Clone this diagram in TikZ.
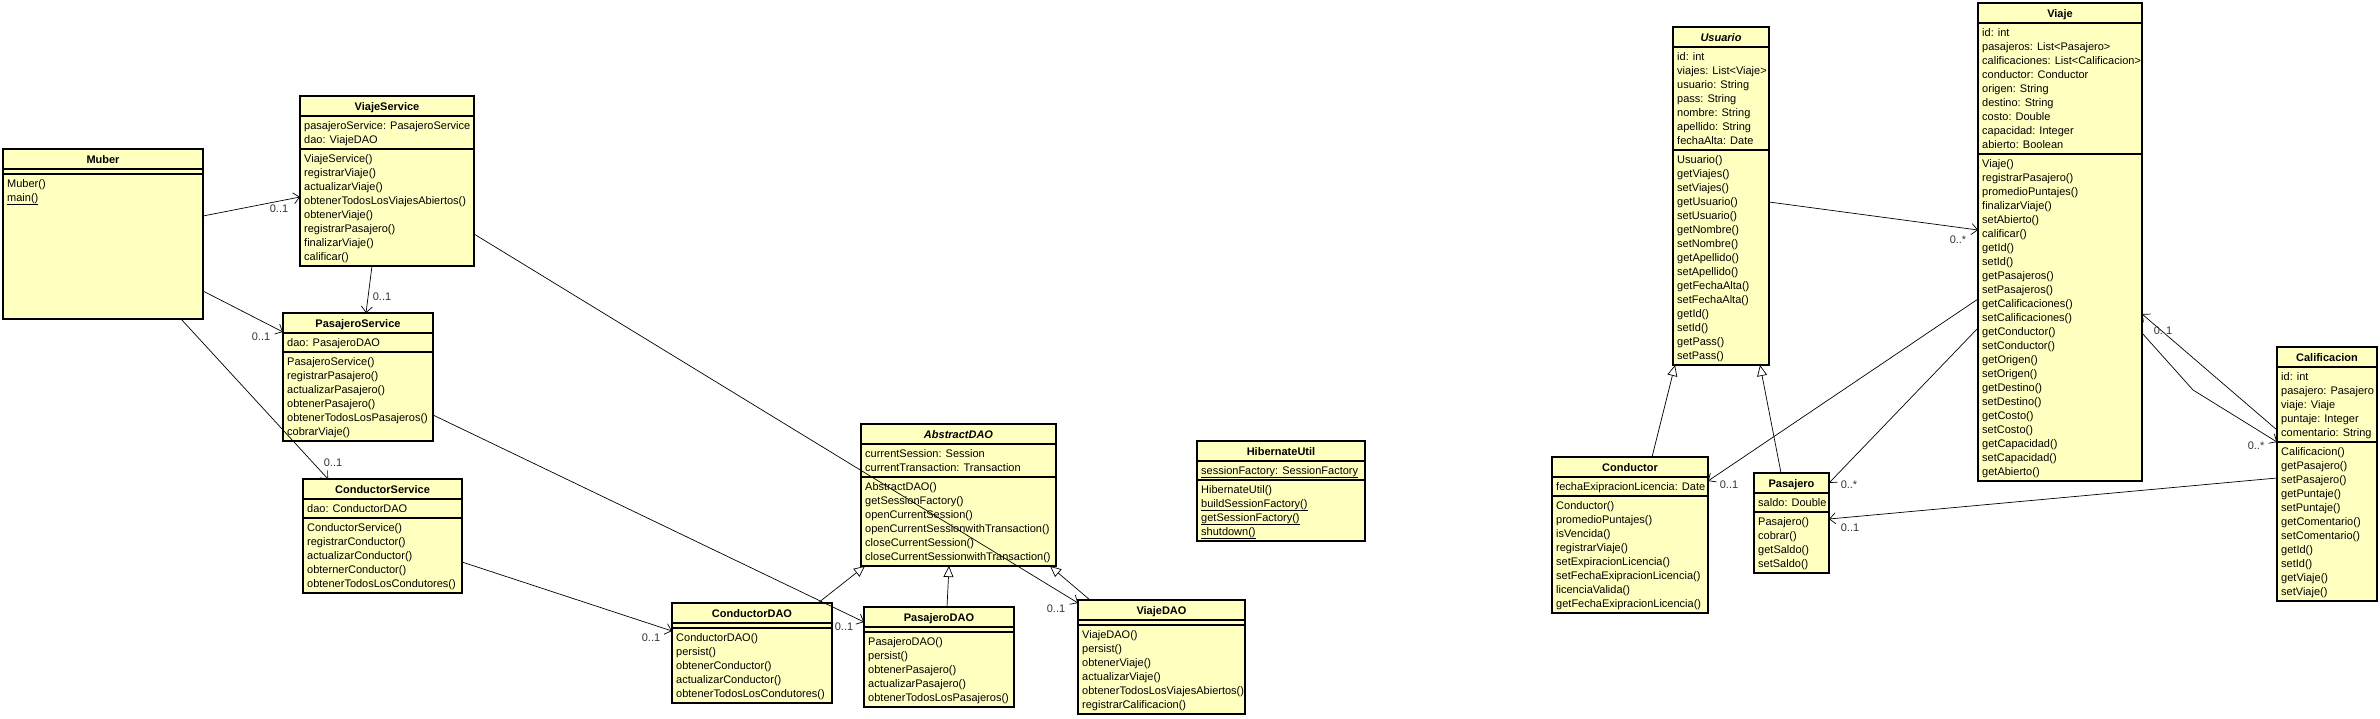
\documentclass[tikz,border=0pt]{standalone}
\usepackage{fontspec}
\setmainfont{Liberation Sans}
\usetikzlibrary{arrows.meta}
\definecolor{classfill}{HTML}{FFFFC0}
\definecolor{multgray}{HTML}{333333}
\tikzset{
  classbox/.style={draw=black,fill=classfill,line width=1.1pt,inner sep=0pt,outer sep=0pt},
  classline/.style={black,line width=1.1pt},
  classtitle/.style={anchor=base,inner sep=0pt,font=\fontsize{11}{13}\selectfont\bfseries},
  member/.style={anchor=base west,inner sep=0pt,font=\fontsize{11}{13}\selectfont},
  mult/.style={inner sep=0pt,font=\fontsize{11}{13}\selectfont,text=multgray},
  assoc/.style={line width=0.7pt,-{Straight Barb[length=6pt,width=11pt]}},
  inherit/.style={line width=0.7pt,-{Triangle[open,length=11pt,width=10pt,line width=0.7pt]}}
}
% #1 name, #2 left, #3 top, #4 width, #5 attribute rows, #6 method rows, #7 title, #8 attributes, #9 methods
\newcommand{\umlclass}[9]{%
  \pgfmathsetmacro{\attrH}{#5*14+5}%
  \pgfmathsetmacro{\methH}{#6*14+5}%
  \node[classbox,minimum width=#4,minimum height={20+\attrH+\methH},anchor=north west] (#1) at (#2,#3) {};
  \draw[classline] (#2,#3+20) -- ++(#4,0);
  \draw[classline] (#2,#3+20+\attrH) -- ++(#4,0);
  \node[classtitle] (#1-title) at (#2+#4/2,#3+14.5) {#7};
  \foreach \m [count=\k] in {#8} \node[member] (#1-a\k) at (#2+4,#3+20+\k*14-1) {\m};
  \foreach \m [count=\k] in {#9} \node[member] (#1-m\k) at (#2+4,#3+20+\attrH+\k*14-1) {\m};
}

\begin{document}
\begin{tikzpicture}[x=1pt,y=-1pt]
  \fill[white] (0,0) rectangle (2380,718);
  \useasboundingbox (0,0) rectangle (2380,718);

  % services
  \umlclass{muber}{3}{149}{200}{0}{10}{Muber}{}{Muber(),\underline{main()}}
  \umlclass{viajeSrv}{300}{96}{174}{2}{8}{ViajeService}{pasajeroService: PasajeroService,dao: ViajeDAO}{ViajeService(),registrarViaje(),actualizarViaje(),obtenerTodosLosViajesAbiertos(),obtenerViaje(),registrarPasajero(),finalizarViaje(),calificar()}
  \umlclass{pasajeroSrv}{283}{313}{150}{1}{6}{PasajeroService}{dao: PasajeroDAO}{PasajeroService(),registrarPasajero(),actualizarPasajero(),obtenerPasajero(),obtenerTodosLosPasajeros(),cobrarViaje()}
  \umlclass{conductorSrv}{303}{479}{159}{1}{5}{ConductorService}{dao: ConductorDAO}{ConductorService(),registrarConductor(),actualizarConductor(),obternerConductor(),obtenerTodosLosCondutores()}

  % daos
  \umlclass{conductorDao}{672}{603}{160}{0}{5}{ConductorDAO}{}{ConductorDAO(),persist(),obtenerConductor(),actualizarConductor(),obtenerTodosLosCondutores()}
  \umlclass{pasajeroDao}{864}{607}{150}{0}{5}{PasajeroDAO}{}{PasajeroDAO(),persist(),obtenerPasajero(),actualizarPasajero(),obtenerTodosLosPasajeros()}
  \umlclass{viajeDao}{1078}{600}{167}{0}{6}{ViajeDAO}{}{ViajeDAO(),persist(),obtenerViaje(),actualizarViaje(),obtenerTodosLosViajesAbiertos(),registrarCalificacion()}
  \umlclass{abstractDao}{861}{424}{195}{2}{6}{\itshape AbstractDAO}{currentSession: Session,currentTransaction: Transaction}{AbstractDAO(),getSessionFactory(),openCurrentSession(),openCurrentSessionwithTransaction(),closeCurrentSession(),closeCurrentSessionwithTransaction()}
  \umlclass{hibernate}{1197}{441}{168}{1}{4}{HibernateUtil}{\underline{sessionFactory: SessionFactory}}{HibernateUtil(),\underline{buildSessionFactory()},\underline{getSessionFactory()},\underline{shutdown()}}

  % model
  \umlclass{usuario}{1673}{27}{96}{7}{15}{\itshape Usuario}{id: int,viajes: List<Viaje>,usuario: String,pass: String,nombre: String,apellido: String,fechaAlta: Date}{Usuario(),getViajes(),setViajes(),getUsuario(),setUsuario(),getNombre(),setNombre(),getApellido(),setApellido(),getFechaAlta(),setFechaAlta(),getId(),setId(),getPass(),setPass()}
  \umlclass{viaje}{1978}{3}{164}{9}{23}{Viaje}{id: int,pasajeros: List<Pasajero>,calificaciones: List<Calificacion>,conductor: Conductor,origen: String,destino: String,costo: Double,capacidad: Integer,abierto: Boolean}{Viaje(),registrarPasajero(),promedioPuntajes(),finalizarViaje(),setAbierto(),calificar(),getId(),setId(),getPasajeros(),setPasajeros(),getCalificaciones(),setCalificaciones(),getConductor(),setConductor(),getOrigen(),setOrigen(),getDestino(),setDestino(),getCosto(),setCosto(),getCapacidad(),setCapacidad(),getAbierto()}
  \umlclass{conductor}{1552}{457}{156}{1}{8}{Conductor}{fechaExipracionLicencia: Date}{Conductor(),promedioPuntajes(),isVencida(),registrarViaje(),setExpiracionLicencia(),setFechaExipracionLicencia(),licenciaValida(),getFechaExipracionLicencia()}
  \umlclass{pasajero}{1754}{473}{75}{1}{4}{Pasajero}{saldo: Double}{Pasajero(),cobrar(),getSaldo(),setSaldo()}
  \umlclass{calificacion}{2277}{347}{100}{5}{11}{Calificacion}{id: int,pasajero: Pasajero,viaje: Viaje,puntaje: Integer,comentario: String}{Calificacion(),getPasajero(),setPasajero(),getPuntaje(),setPuntaje(),getComentario(),setComentario(),getId(),setId(),getViaje(),setViaje()}

  % associations
  \draw[assoc] ([shift={(0,67)}]muber.north east) -- ([shift={(0,101)}]viajeSrv.north west);
  \draw[assoc] ([shift={(0,142)}]muber.north east) -- ([shift={(0,19)}]pasajeroSrv.north west);
  \draw[assoc] ([shift={(72,0)}]viajeSrv.south west) -- ([shift={(83,0)}]pasajeroSrv.north west);
  \draw[assoc] ([shift={(178,0)}]muber.south west) -- ([shift={(25,0)}]conductorSrv.north west);
  \draw[assoc] ([shift={(0,102)}]pasajeroSrv.north east) -- ([shift={(0,15)}]pasajeroDao.north west);
  \draw[assoc] ([shift={(0,83)}]conductorSrv.north east) -- ([shift={(0,28)}]conductorDao.north west);
  \draw[assoc] ([shift={(0,138)}]viajeSrv.north east) -- ([shift={(0,3)}]viajeDao.north west);
  \draw[assoc] ([shift={(0,175)}]usuario.north east) -- ([shift={(0,227)}]viaje.north west);
  \draw[assoc] ([shift={(0,296)}]viaje.north west) -- ([shift={(0,24)}]conductor.north east);
  \draw[assoc] ([shift={(0,325)}]viaje.north west) -- ([shift={(0,10)}]pasajero.north east);
  \draw[assoc] ([shift={(0,131)}]calificacion.north west) -- ([shift={(0,46)}]pasajero.north east);
  \draw[assoc] ([shift={(0,83)}]calificacion.north west) -- ([shift={(0,311)}]viaje.north east);
  \coordinate (bend) at (2193,390);
  \draw[assoc] ([shift={(0,330)}]viaje.north east) -- (bend) -- ([shift={(0,95)}]calificacion.north west);

  % generalizations
  \draw[inherit] ([shift={(146,0)}]conductorDao.north west) -- ([shift={(4,0)}]abstractDao.south west);
  \draw[inherit] ([shift={(83,0)}]pasajeroDao.north west) -- ([shift={(88,0)}]abstractDao.south west);
  \draw[inherit] ([shift={(12,0)}]viajeDao.north west) -- ([shift={(-6,0)}]abstractDao.south east);
  \draw[inherit] ([shift={(100,0)}]conductor.north west) -- ([shift={(2,0)}]usuario.south west);
  \draw[inherit] ([shift={(27,0)}]pasajero.north west) -- ([shift={(87,0)}]usuario.south west);

  % multiplicities
  \foreach \n/\x/\y/\t in {l1/279/209/0..1,l2/261/337/0..1,l3/382/297/0..1,l4/333/463/0..1,
      l5/844/627/0..1,l6/651/638/0..1,l7/1056/609/0..1,l8/1958/240/0..*,l9/1729/485/0..1,
      l10/1849/485/0..*,l11/1850/528/0..1,l12/2163/331/0..1,l13/2256/446/0..*}
    \node[mult] (\n) at (\x,\y) {\t};
\end{tikzpicture}
\end{document}
